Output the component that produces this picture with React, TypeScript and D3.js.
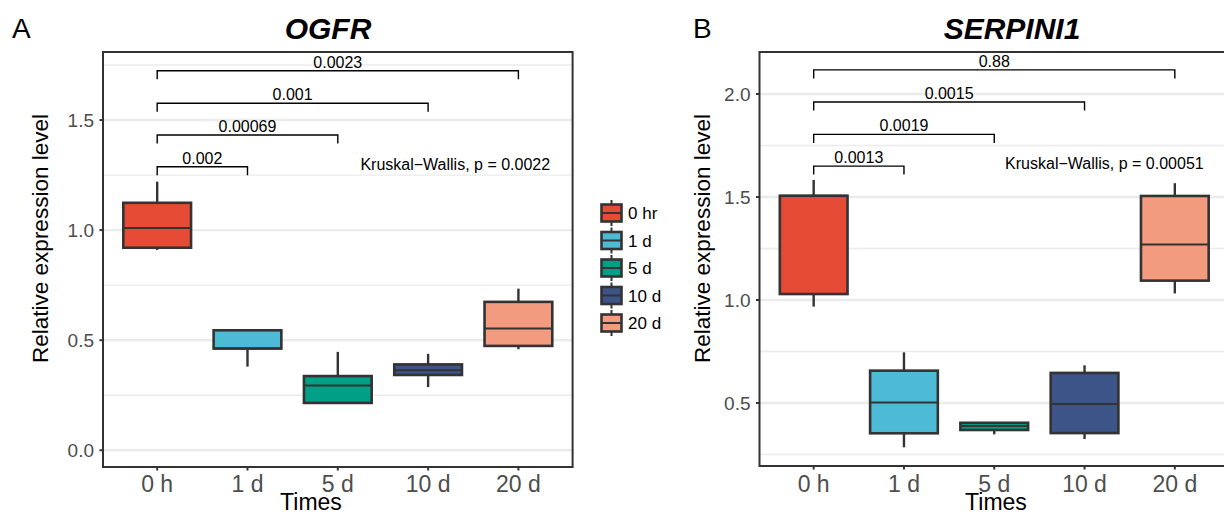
import React from "react";
import * as d3 from "d3";

const groups = ["0 h", "1 d", "5 d", "10 d", "20 d"];
const legendLabels = ["0 hr", "1 d", "5 d", "10 d", "20 d"];
const colors = ["#E64B35", "#4DBBD5", "#00A087", "#3C5488", "#F39B7F"];

// OGFR box stats
const ogfrMin = [0.91, 0.38, 0.213, 0.287, 0.459];
const ogfrQ1 = [0.92, 0.462, 0.215, 0.342, 0.474];
const ogfrMed = [1.01, 0.462, 0.294, 0.364, 0.553];
const ogfrQ3 = [1.124, 0.545, 0.337, 0.39, 0.674];
const ogfrMax = [1.22, 0.545, 0.447, 0.438, 0.734];
const ogfrTicks = [0, 0.5, 1.0, 1.5];
const ogfrP = ["0.002", "0.00069", "0.001", "0.0023"];
const ogfrBracketY = [1.288, 1.432, 1.576, 1.724];
const ogfrKW = "Kruskal\u2212Wallis, p = 0.0022";

// SERPINI1 box stats
const serpMin = [0.968, 0.285, 0.348, 0.325, 1.032];
const serpQ1 = [1.029, 0.353, 0.369, 0.354, 1.094];
const serpMed = [1.506, 0.503, 0.388, 0.495, 1.27];
const serpQ3 = [1.506, 0.657, 0.404, 0.646, 1.505];
const serpMax = [1.583, 0.746, 0.404, 0.683, 1.567];
const serpTicks = [0.5, 1.0, 1.5, 2.0];
const serpP = ["0.0013", "0.0019", "0.0015", "0.88"];
const serpBracketY = [1.65, 1.804, 1.961, 2.117];
const serpKW = "Kruskal\u2212Wallis, p = 0.00051";

const FONT = "'Liberation Sans', Arial, Helvetica, sans-serif";

type PanelProps = {
  letter: string;
  letterX: number;
  title: string;
  titleX: number;
  left: number;
  right: number;
  top: number;
  bottom: number;
  domain: [number, number];
  ticks: number[];
  mins: number[];
  q1: number[];
  med: number[];
  q3: number[];
  maxs: number[];
  pvals: string[];
  bracketY: number[];
  kw: string;
  kwX: number;
  kwY: number;
  timesX: number;
  ytitleX: number;
};

const Panel = (p: PanelProps) => {
  const x = d3.scaleLinear().domain([-0.6, groups.length - 0.4]).range([p.left, p.right]);
  const y = d3.scaleLinear().domain(p.domain).range([p.bottom, p.top]);
  const bw = x(0.375) - x(0);
  // minor grid at the quarter steps, skipping majors
  const minor = d3.range(Math.ceil(p.domain[0] / 0.25) * 0.25, p.domain[1], 0.25).filter(
    (v) => !p.ticks.some((t) => Math.abs(t - v) < 1e-6)
  );
  return (
    <g>
      <text x={p.letterX} y={38} fontSize={28} fontFamily={FONT}>{p.letter}</text>
      <text x={p.titleX} y={39} fontSize={30} fontFamily={FONT} fontWeight="bold" fontStyle="italic" textAnchor="middle">{p.title}</text>
      {minor.map((v) => (
        <line key={"mi" + v} x1={p.left} x2={p.right} y1={y(v)} y2={y(v)} stroke="#EBEBEB" strokeWidth={1.3} />
      ))}
      {p.ticks.map((v) => (
        <line key={"ma" + v} x1={p.left} x2={p.right} y1={y(v)} y2={y(v)} stroke="#EBEBEB" strokeWidth={2.4} />
      ))}
      {groups.map((g, i) => (
        <g key={g}>
          <line x1={x(i)} x2={x(i)} y1={y(p.q3[i])} y2={y(p.maxs[i])} stroke="#333" strokeWidth={2.4} />
          <line x1={x(i)} x2={x(i)} y1={y(p.q1[i])} y2={y(p.mins[i])} stroke="#333" strokeWidth={2.4} />
          <rect x={x(i) - bw} width={2 * bw} y={y(p.q3[i])} height={y(p.q1[i]) - y(p.q3[i])} fill={colors[i]} stroke="#333" strokeWidth={2.6} />
          <line x1={x(i) - bw} x2={x(i) + bw} y1={y(p.med[i])} y2={y(p.med[i])} stroke="#333" strokeWidth={2} />
        </g>
      ))}
      {p.pvals.map((lab, k) => {
        const by = y(p.bracketY[k]);
        const xa = x(0);
        const xb = x(k + 1);
        return (
          <g key={"b" + k}>
            <path d={`M${xa},${by + 8.5}V${by}H${xb}V${by + 8.5}`} fill="none" stroke="#000" strokeWidth={1.4} />
            <text x={(xa + xb) / 2} y={by - 3} fontSize={16} fontFamily={FONT} textAnchor="middle">{lab}</text>
          </g>
        );
      })}
      <text x={x(p.kwX)} y={y(p.kwY)} fontSize={16} fontFamily={FONT}>{p.kw}</text>
      <rect x={p.left} y={p.top} width={p.right - p.left} height={p.bottom - p.top} fill="none" stroke="#333" strokeWidth={2} />
      {p.ticks.map((v) => (
        <g key={"t" + v}>
          <line x1={p.left - 3.5} x2={p.left} y1={y(v)} y2={y(v)} stroke="#333" strokeWidth={2} />
          <text x={p.left - 9} y={y(v) + 6.8} fontSize={19} fill="#4D4D4D" fontFamily={FONT} textAnchor="end">{d3.format(".1f")(v)}</text>
        </g>
      ))}
      {groups.map((g, i) => (
        <g key={"x" + g}>
          <line x1={x(i)} x2={x(i)} y1={p.bottom} y2={p.bottom + 3.5} stroke="#333" strokeWidth={2} />
          <text x={x(i)} y={492} fontSize={23} fill="#4D4D4D" fontFamily={FONT} textAnchor="middle">{g}</text>
        </g>
      ))}
      <text x={p.timesX} y={510} fontSize={23} fontFamily={FONT} textAnchor="middle">Times</text>
      <text transform={`translate(${p.ytitleX},238.5) rotate(-90)`} fontSize={22.5} fontFamily={FONT} textAnchor="middle">Relative expression level</text>
    </g>
  );
};

const Legend = () => {
  const rows = d3.scaleLinear().domain([0, 4]).range([213, 323]);
  return (
    <g>
      {legendLabels.map((lab, i) => {
        const cy = rows(i);
        return (
          <g key={lab}>
            <line x1={611.5} x2={611.5} y1={cy - 13} y2={cy + 13} stroke="#333" strokeWidth={2} />
            <rect x={601.5} y={cy - 8.5} width={20} height={17} fill={colors[i]} stroke="#333" strokeWidth={2.6} />
            <line x1={601.5} x2={621.5} y1={cy} y2={cy} stroke="#333" strokeWidth={2} />
            <text x={628} y={cy + 6} fontSize={17} fontFamily={FONT}>{lab}</text>
          </g>
        );
      })}
    </g>
  );
};

export default function App() {
  return (
    <svg width={1224} height={515} style={{ position: "absolute", left: 0, top: 0, background: "#fff" }}>
      <Panel
        letter="A" letterX={12} title="OGFR" titleX={328}
        left={103} right={572.6} top={52} bottom={467} domain={[-0.076, 1.809]}
        ticks={ogfrTicks} mins={ogfrMin} q1={ogfrQ1} med={ogfrMed} q3={ogfrQ3} maxs={ogfrMax}
        pvals={ogfrP} bracketY={ogfrBracketY} kw={ogfrKW} kwX={2.25} kwY={1.275}
        timesX={311} ytitleX={48}
      />
      <Legend />
      <Panel
        letter="B" letterX={693} title="SERPINI1" titleX={1012}
        left={759.5} right={1229} top={52} bottom={466} domain={[0.1942, 2.2039]}
        ticks={serpTicks} mins={serpMin} q1={serpQ1} med={serpMed} q3={serpQ3} maxs={serpMax}
        pvals={serpP} bracketY={serpBracketY} kw={serpKW} kwX={2.12} kwY={1.638}
        timesX={996} ytitleX={710}
      />
    </svg>
  );
}
